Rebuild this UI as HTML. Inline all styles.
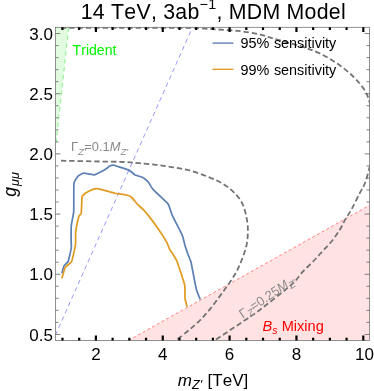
<!DOCTYPE html>
<html><head><meta charset="utf-8"><title>plot</title>
<style>html,body{margin:0;padding:0;background:#fff;}body{width:374px;height:391px;overflow:hidden;}svg{display:block;will-change:transform;}text{font-family:"Liberation Sans",sans-serif;font-kerning:none;}</style>
</head><body>
<svg width="374" height="391" viewBox="0 0 374 391">
<rect x="0" y="0" width="374" height="391" fill="#ffffff"/>
<defs><clipPath id="c"><rect x="55.40" y="27.30" width="314.15" height="313.10"/></clipPath></defs>
<g clip-path="url(#c)">
<polygon points="128.5,340.40 369.55,205.30 369.55,340.40" fill="#ffe3e3"/>
<line x1="128.5" y1="340.40" x2="369.55" y2="205.30" stroke="#ff7474" stroke-width="0.9" stroke-dasharray="3 2.4"/>
<polygon points="55.40,27.30 68.7,27.30 55.40,148.4" fill="#e0fbe0"/>
<line x1="68.7" y1="27.30" x2="54.65" y2="156" stroke="#7def7d" stroke-width="0.9" stroke-dasharray="4.4 3.6"/>
<line x1="55.40" y1="335.2" x2="192.5" y2="27.30" stroke="#8585ff" stroke-width="0.85" stroke-dasharray="4.5 3.5"/>
<path d="M61.00,160.70 C67.50,160.83 89.33,161.28 100.00,161.50 C110.67,161.72 118.43,161.72 125.00,162.00 C131.57,162.28 134.18,162.72 139.40,163.20 C144.62,163.68 150.68,164.22 156.30,164.90 C161.92,165.58 167.48,166.37 173.10,167.30 C178.72,168.23 184.05,168.87 190.00,170.50 C195.95,172.13 203.22,174.83 208.80,177.10 C214.38,179.37 219.08,181.32 223.50,184.10 C227.92,186.88 232.12,190.47 235.30,193.80 C238.48,197.13 240.73,200.17 242.60,204.10 C244.47,208.03 245.62,212.98 246.50,217.40 C247.38,221.82 247.90,225.95 247.90,230.60 C247.90,235.25 247.53,240.40 246.50,245.30 C245.47,250.20 243.40,255.55 241.70,260.00 C240.00,264.45 238.47,268.02 236.30,272.00 C234.13,275.98 231.42,279.92 228.70,283.90 C225.98,287.88 223.08,291.73 220.00,295.90 C216.92,300.07 213.47,304.92 210.20,308.90 C206.93,312.88 203.83,316.35 200.40,319.80 C196.97,323.25 193.22,326.52 189.60,329.60 C185.98,332.68 181.07,336.43 178.70,338.30 C176.33,340.17 175.95,340.38 175.40,340.80" fill="none" stroke="#737373" stroke-width="1.8" stroke-dasharray="5.4 2.9"/>
<path d="M61.00,27.75 C70.83,27.75 98.83,27.73 120.00,27.75 C141.17,27.77 174.50,27.74 188.00,27.85 C201.50,27.96 196.17,28.14 201.00,28.40 C205.83,28.66 210.83,28.98 217.00,29.40 C223.17,29.82 231.13,30.12 238.00,30.90 C244.87,31.68 252.20,32.80 258.20,34.10 C264.20,35.40 266.92,36.68 274.00,38.70 C281.08,40.72 293.12,43.77 300.70,46.20 C308.28,48.63 313.28,50.32 319.50,53.30 C325.72,56.28 332.25,60.10 338.00,64.10 C343.75,68.10 349.50,72.85 354.00,77.30 C358.50,81.75 362.38,86.60 365.00,90.80 C367.62,95.00 368.28,97.97 369.70,102.50 C371.12,107.03 372.62,112.58 373.50,118.00 C374.38,123.42 375.00,129.33 375.00,135.00 C375.00,140.67 374.38,146.70 373.50,152.00 C372.62,157.30 371.12,161.63 369.70,166.80 C368.28,171.97 366.68,178.57 365.00,183.00 C363.32,187.43 361.85,189.00 359.60,193.40 C357.35,197.80 353.95,204.95 351.50,209.40 C349.05,213.85 346.87,216.67 344.90,220.10 C342.93,223.53 341.90,226.48 339.70,230.00 C337.50,233.52 334.63,237.58 331.70,241.20 C328.77,244.82 325.30,248.22 322.10,251.70 C318.90,255.18 315.72,258.77 312.50,262.10 C309.28,265.43 305.58,268.65 302.80,271.70 C300.02,274.75 298.22,277.78 295.80,280.40 C293.38,283.02 290.80,285.22 288.30,287.40 C285.80,289.58 284.23,290.77 280.80,293.50 C277.37,296.23 271.78,300.63 267.70,303.80 C263.62,306.97 260.42,309.55 256.30,312.50 C252.18,315.45 247.70,318.33 243.00,321.50 C238.30,324.67 232.93,328.27 228.10,331.50 C223.27,334.73 216.35,339.33 214.00,340.90" fill="none" stroke="#737373" stroke-width="1.8" stroke-dasharray="5.4 2.9"/>
<path d="M61.90,273.30 C62.03,272.84 63.61,266.65 64.00,265.90 C64.39,265.15 67.74,262.42 68.20,261.30 C68.66,260.18 71.12,249.33 71.30,248.00 C71.48,246.67 71.10,241.41 71.10,240.00 C71.10,238.59 71.14,227.24 71.30,225.50 C71.46,223.76 73.54,213.79 73.70,212.20 C73.86,210.61 73.78,201.81 73.80,200.00 C73.82,198.19 73.75,184.68 74.00,183.20 C74.25,181.72 77.20,176.93 77.80,176.30 C78.40,175.68 82.56,173.29 83.60,173.20 C84.64,173.11 93.47,174.86 94.50,174.80 C95.53,174.74 99.21,172.61 100.00,172.20 C100.79,171.79 106.51,168.57 107.10,168.20 C107.69,167.83 109.01,166.49 109.40,166.30 C109.79,166.11 112.86,165.09 113.40,165.10 C113.94,165.11 117.07,166.20 118.00,166.50 C118.93,166.80 127.44,169.54 128.30,169.90 C129.16,170.26 131.38,171.88 131.80,172.20 C132.23,172.52 134.41,174.67 135.10,175.00 C135.79,175.33 141.96,177.04 142.80,177.50 C143.64,177.96 147.86,181.56 148.50,182.30 C149.14,183.04 151.84,188.03 153.00,189.30 C154.16,190.58 166.10,201.66 167.10,202.70 C168.10,203.74 168.67,205.09 169.00,205.90 C169.33,206.71 171.57,213.76 172.40,215.60 C173.23,217.44 181.51,233.41 182.30,235.30 C183.09,237.19 184.72,244.54 185.10,245.80 C185.48,247.06 188.03,254.49 188.40,255.50 C188.77,256.51 190.62,260.45 191.00,262.00 C191.38,263.55 194.15,278.54 194.50,280.30 C194.85,282.06 196.24,289.01 196.60,290.20 C196.96,291.39 199.97,298.73 200.20,299.30" fill="none" stroke="#5e81b5" stroke-width="1.75" stroke-linejoin="round" stroke-linecap="butt"/>
<path d="M61.90,278.50 C62.10,277.82 64.49,268.68 65.10,267.60 C65.71,266.53 71.05,262.74 71.70,261.30 C72.35,259.86 75.25,246.44 75.50,244.60 C75.75,242.76 75.49,233.57 75.70,231.80 C75.91,230.03 78.56,217.45 78.90,216.30 C79.24,215.15 81.01,214.59 81.20,213.40 C81.39,212.21 81.90,198.42 82.00,197.30 C82.10,196.18 82.41,195.86 82.80,195.50 C83.19,195.14 87.47,192.01 88.20,191.60 C88.93,191.19 93.79,189.06 94.50,188.90 C95.21,188.74 98.64,188.92 99.60,189.10 C100.56,189.28 108.89,191.53 109.90,191.80 C110.91,192.08 114.98,193.36 115.70,193.50 C116.42,193.64 120.61,193.97 121.40,194.10 C122.19,194.22 127.65,195.29 128.30,195.50 C128.95,195.71 131.21,196.93 131.80,197.50 C132.39,198.07 137.01,203.88 137.70,204.60 C138.39,205.32 142.12,208.41 142.80,209.10 C143.48,209.79 147.53,214.36 148.50,215.60 C149.47,216.84 157.16,227.23 158.30,228.90 C159.44,230.57 166.09,241.02 166.80,242.30 C167.51,243.58 169.19,248.61 169.60,249.40 C170.01,250.19 172.94,254.26 173.40,255.00 C173.86,255.74 176.29,259.41 177.00,261.30 C177.71,263.19 184.20,282.87 184.70,285.20 C185.20,287.53 184.84,297.25 185.00,298.60 C185.16,299.95 187.06,306.29 187.20,306.80" fill="none" stroke="#e19c24" stroke-width="1.75" stroke-linejoin="round" stroke-linecap="butt"/>
</g>
<rect x="55.40" y="27.30" width="314.15" height="313.10" fill="none" stroke="#6e6e6e" stroke-width="0.75"/>
<path d="M55.40,334.43 h5.00 M369.55,334.43 h-5.00 M55.40,322.39 h3.10 M369.55,322.39 h-3.10 M55.40,310.35 h3.10 M369.55,310.35 h-3.10 M55.40,298.32 h3.10 M369.55,298.32 h-3.10 M55.40,286.28 h3.10 M369.55,286.28 h-3.10 M55.40,274.25 h5.00 M369.55,274.25 h-5.00 M55.40,262.21 h3.10 M369.55,262.21 h-3.10 M55.40,250.18 h3.10 M369.55,250.18 h-3.10 M55.40,238.14 h3.10 M369.55,238.14 h-3.10 M55.40,226.11 h3.10 M369.55,226.11 h-3.10 M55.40,214.07 h5.00 M369.55,214.07 h-5.00 M55.40,202.04 h3.10 M369.55,202.04 h-3.10 M55.40,190.00 h3.10 M369.55,190.00 h-3.10 M55.40,177.97 h3.10 M369.55,177.97 h-3.10 M55.40,165.94 h3.10 M369.55,165.94 h-3.10 M55.40,153.90 h5.00 M369.55,153.90 h-5.00 M55.40,141.86 h3.10 M369.55,141.86 h-3.10 M55.40,129.83 h3.10 M369.55,129.83 h-3.10 M55.40,117.80 h3.10 M369.55,117.80 h-3.10 M55.40,105.76 h3.10 M369.55,105.76 h-3.10 M55.40,93.72 h5.00 M369.55,93.72 h-5.00 M55.40,81.69 h3.10 M369.55,81.69 h-3.10 M55.40,69.65 h3.10 M369.55,69.65 h-3.10 M55.40,57.62 h3.10 M369.55,57.62 h-3.10 M55.40,45.59 h3.10 M369.55,45.59 h-3.10 M55.40,33.55 h5.00 M369.55,33.55 h-5.00" stroke="#6a6a6a" stroke-width="0.85" fill="none"/>
<path d="M62.48,340.40 v-2.60 M62.48,27.30 v2.60 M79.19,340.40 v-2.60 M79.19,27.30 v2.60 M95.90,340.40 v-4.80 M95.90,27.30 v4.80 M112.61,340.40 v-2.60 M112.61,27.30 v2.60 M129.32,340.40 v-2.60 M129.32,27.30 v2.60 M146.04,340.40 v-2.60 M146.04,27.30 v2.60 M162.75,340.40 v-4.80 M162.75,27.30 v4.80 M179.46,340.40 v-2.60 M179.46,27.30 v2.60 M196.18,340.40 v-2.60 M196.18,27.30 v2.60 M212.89,340.40 v-2.60 M212.89,27.30 v2.60 M229.60,340.40 v-4.80 M229.60,27.30 v4.80 M246.31,340.40 v-2.60 M246.31,27.30 v2.60 M263.02,340.40 v-2.60 M263.02,27.30 v2.60 M279.74,340.40 v-2.60 M279.74,27.30 v2.60 M296.45,340.40 v-4.80 M296.45,27.30 v4.80 M313.16,340.40 v-2.60 M313.16,27.30 v2.60 M329.88,340.40 v-2.60 M329.88,27.30 v2.60 M346.59,340.40 v-2.60 M346.59,27.30 v2.60 M363.30,340.40 v-4.80 M363.30,27.30 v4.80" stroke="#000" stroke-width="2.2" fill="none"/>
<text x="53" y="340.62" font-size="17" text-anchor="end" fill="#000">0.5</text>
<text x="53" y="280.45" font-size="17" text-anchor="end" fill="#000">1.0</text>
<text x="53" y="220.27" font-size="17" text-anchor="end" fill="#000">1.5</text>
<text x="53" y="160.10" font-size="17" text-anchor="end" fill="#000">2.0</text>
<text x="53" y="99.92" font-size="17" text-anchor="end" fill="#000">2.5</text>
<text x="53" y="39.75" font-size="17" text-anchor="end" fill="#000">3.0</text>
<text x="95.90" y="359.9" font-size="17" text-anchor="middle" fill="#000">2</text>
<text x="162.75" y="359.9" font-size="17" text-anchor="middle" fill="#000">4</text>
<text x="229.60" y="359.9" font-size="17" text-anchor="middle" fill="#000">6</text>
<text x="296.45" y="359.9" font-size="17" text-anchor="middle" fill="#000">8</text>
<text x="364.50" y="359.9" font-size="17" text-anchor="middle" fill="#000">10</text>
<text x="80.7" y="19.45" font-size="21.3" letter-spacing="0.26" fill="#000">14 TeV, 3ab<tspan font-size="14.3" dy="-10">−1</tspan><tspan dy="10">, MDM Model</tspan></text>
<line x1="212.5" y1="43.1" x2="233.4" y2="43.1" stroke="#5e81b5" stroke-width="1.4"/>
<line x1="212.5" y1="69.3" x2="233.4" y2="69.3" stroke="#e19c24" stroke-width="1.4"/>
<text x="240.4" y="48.3" font-size="14.4" word-spacing="0.7" fill="#000">95% sensitivity</text>
<text x="240.4" y="74.5" font-size="14.4" word-spacing="0.7" fill="#000">99% sensitivity</text>
<text x="72.6" y="54.7" font-size="14.1" fill="#00f400">Trident</text>
<text x="262.6" y="331.1" font-size="14.6" fill="#ff0000"><tspan font-style="italic">B</tspan><tspan font-style="italic" font-size="10.5" dy="2.5">s</tspan><tspan dy="-2.5"> Mixing</tspan></text>
<text x="70.9" y="151.4" font-size="12.85" fill="#8a8a8a">Γ<tspan font-style="italic" font-size="9.8" dy="3.1">Z'</tspan><tspan dy="-3.1" dx="-1.5">=0.1</tspan><tspan font-style="italic">M</tspan><tspan font-style="italic" font-size="9.8" dy="3.1">Z'</tspan></text>
<text transform="translate(242.7,318.7) rotate(-34.5)" x="0" y="0" font-size="12.85" fill="#8a8a8a">Γ<tspan font-style="italic" font-size="9.8" dy="3.1">Z'</tspan><tspan dy="-3.1" dx="-1.5">=0.25</tspan><tspan font-style="italic">M</tspan><tspan font-style="italic" font-size="9.8" dy="3.1">Z'</tspan></text>
<text x="177.8" y="386.2" font-size="17" fill="#000"><tspan font-style="italic">m</tspan><tspan font-style="italic" font-size="12.6" dy="2.6">Z'</tspan><tspan dy="-2.6" dx="0.8"> [TeV]</tspan></text>
<text transform="translate(16.1,196.8) rotate(-90)" x="0" y="0" font-size="17.5" fill="#000"><tspan font-style="italic">g</tspan><tspan font-style="italic" font-size="12.5" dy="2.7" dx="1.2">μμ</tspan></text>
</svg></body></html>
